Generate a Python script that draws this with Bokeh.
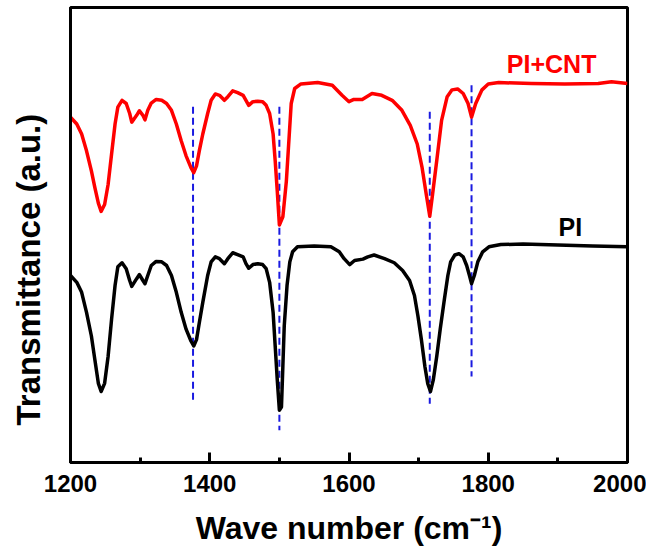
from bokeh.plotting import figure
from bokeh.models import Range1d, SingleIntervalTicker, Title
from bokeh.core.properties import value
from bokeh.embed import file_html
from bokeh.resources import INLINE

# Spectrum of PI (wavenumber cm^-1, transmittance a.u.)
wn_pi = [1200, 1209, 1216, 1223, 1230, 1235, 1240, 1244, 1249, 1254, 1259, 1264, 1268, 1274,
         1280, 1285, 1288, 1295, 1299, 1304, 1307, 1311, 1316, 1323, 1331, 1338, 1345, 1352,
         1359, 1366, 1373, 1377, 1381, 1385, 1390, 1397, 1402, 1408, 1414, 1421, 1426, 1433,
         1440, 1448, 1452, 1456, 1462, 1469, 1476, 1481, 1486, 1491, 1494, 1497, 1500,
         1503, 1505, 1507, 1511, 1515, 1519, 1526, 1550, 1574, 1586, 1593, 1601, 1608, 1620,
         1627, 1636, 1651, 1665, 1677, 1687, 1694, 1699, 1704, 1709, 1713, 1717, 1721, 1726,
         1731, 1737, 1742, 1746, 1752, 1758, 1764, 1769, 1773, 1776, 1780, 1785, 1792, 1801,
         1818, 1850, 1900, 1950, 2000]
t_pi = [41.1, 39.6, 37.4, 33.0, 27.8, 22.6, 17.4, 15.6, 17.4, 23.3, 31.5, 38.9, 43.0, 43.9,
        42.6, 40.0, 38.7, 40.4, 41.3, 40.0, 39.3, 41.1, 43.3, 44.2, 44.1, 43.3, 41.1, 37.4,
        33.0, 29.3, 26.7, 25.6, 27.0, 30.7, 35.2, 41.1, 44.1, 45.2, 44.8, 43.7, 44.8, 46.1,
        45.7, 45.2, 43.7, 42.7, 43.5, 43.7, 43.5, 42.6, 39.6, 33.0, 25.6, 18.1, 11.5,
        12.2, 21.1, 30.0, 38.9, 44.1, 46.3, 47.4, 47.6, 47.4, 46.3, 44.8, 43.5, 44.4, 44.7,
        45.2, 45.6, 44.8, 43.9, 42.2, 40.0, 36.7, 32.2, 27.0, 21.1, 17.4, 15.6, 18.1, 23.3,
        29.3, 35.9, 41.1, 44.1, 45.6, 45.9, 45.2, 43.3, 41.1, 39.3, 41.1, 44.1, 46.3, 47.4,
        47.9, 48.0, 47.8, 47.6, 47.4]

# Spectrum of PI+CNT
wn_cnt = [1200, 1209, 1216, 1223, 1230, 1235, 1240, 1244, 1249, 1254, 1259, 1264, 1268, 1274,
          1280, 1285, 1288, 1295, 1299, 1304, 1307, 1311, 1316, 1323, 1331, 1338, 1345, 1352,
          1359, 1366, 1373, 1377, 1381, 1385, 1390, 1397, 1402, 1408, 1414, 1421, 1426, 1433,
          1440, 1448, 1452, 1456, 1462, 1469, 1476, 1481, 1486, 1491, 1494, 1497, 1500,
          1505, 1510, 1517, 1522, 1531, 1555, 1576, 1590, 1600, 1607, 1619, 1633, 1647, 1662,
          1676, 1688, 1698, 1705, 1711, 1716, 1720, 1726, 1733, 1741, 1748, 1756, 1764, 1771,
          1776, 1782, 1791, 1800, 1815, 1862, 1910, 1958, 1977, 2000]
t_cnt = [75.9, 74.4, 72.2, 68.5, 64.1, 60.4, 57.0, 55.2, 56.7, 61.1, 67.8, 74.4, 78.1, 79.6,
         78.9, 76.7, 74.8, 76.3, 77.3, 76.3, 75.3, 77.4, 79.0, 79.8, 79.6, 78.9, 77.4, 74.4,
         70.7, 67.4, 64.8, 63.7, 65.2, 68.5, 72.2, 76.7, 79.6, 81.0, 80.7, 79.6, 80.4, 81.7,
         81.3, 80.7, 79.6, 78.5, 79.3, 79.4, 79.3, 78.5, 76.7, 72.2, 66.3, 59.6, 52.2,
         54.0, 61.8, 78.9, 82.2, 83.2, 83.5, 82.9, 80.7, 79.3, 79.8, 79.8, 81.1, 80.7, 79.6,
         77.4, 74.1, 70.0, 64.8, 58.9, 54.1, 58.9, 66.3, 75.2, 80.4, 81.9, 82.1, 81.1, 78.9,
         75.9, 78.9, 81.9, 83.2, 83.5, 83.3, 83.2, 83.3, 83.7, 83.3]

# Marked band positions and the extent of the guide lines
peak_wn = [1376, 1500, 1716, 1776]
peak_top = [78.2, 78.2, 77.1, 82.9]
peak_bottom = [13.6, 7.1, 12.9, 18.9]

series_names = ["PI+CNT", "PI"]

FONT = "Liberation Sans"

p = figure(width=646, height=548, output_backend="svg", toolbar_location=None,
           x_range=Range1d(1200, 2000), y_range=Range1d(0, 100),
           min_border_left=61, min_border_right=19, min_border_top=7, min_border_bottom=10)

p.xgrid.visible = False
p.ygrid.visible = False
p.background_fill_color = "white"
p.border_fill_color = "white"
p.outline_line_color = "black"
p.outline_line_width = 3

# x axis
xa = p.xaxis[0]
xa.ticker = SingleIntervalTicker(interval=200, num_minor_ticks=2)
xa.axis_line_width = 3
xa.axis_line_color = "black"
xa.major_tick_in = 10
xa.major_tick_out = 0
xa.minor_tick_in = 5
xa.minor_tick_out = 0
xa.major_tick_line_width = 3
xa.minor_tick_line_width = 3
xa.major_label_text_font = FONT
xa.major_label_text_font_style = "bold"
xa.major_label_text_font_size = "24px"
xa.major_label_text_color = "black"
xa.major_label_standoff = 12
xa.axis_label = "Wave number (cm\u207b\u00b9)"
xa.axis_label_text_font = FONT
xa.axis_label_text_font_style = "bold"
xa.axis_label_text_font_size = "32px"
xa.axis_label_text_color = "black"
xa.axis_label_standoff = 15

# y axis: no ticks or labels (invisible outer ticks keep the title's gap)
ya = p.yaxis[0]
ya.axis_line_width = 3
ya.axis_line_color = "black"
ya.major_tick_line_color = None
ya.minor_tick_line_color = None
ya.major_tick_in = 0
ya.major_tick_out = 17
ya.minor_tick_in = 0
ya.minor_tick_out = 0
ya.major_label_text_font_size = "0px"
ya.major_label_text_color = None
ya.major_label_standoff = 0

# y title (placed slightly below the centre, as in the original)
p.add_layout(Title(text="Transmittance (a.u.)", align="left", offset=37, standoff=14,
                   text_font=FONT, text_font_style="bold", text_font_size="33px",
                   text_color="black"), "left")

# guide lines
p.segment(x0=peak_wn, y0=peak_top, x1=peak_wn, y1=peak_bottom,
          line_color="#1a1ae0", line_width=2, line_dash="7 4")

# spectra
p.line(wn_cnt, t_cnt, line_color="#ff0000", line_width=3.5, line_join="round")
p.line(wn_pi, t_pi, line_color="black", line_width=3.5, line_join="round")

# series labels
p.text(x=[1891], y=[87.6], text=[series_names[0]], text_color="#ff0000",
       text_font=value(FONT), text_font_style="bold", text_font_size="25px",
       text_align="center", text_baseline="middle")
p.text(x=[1918], y=[51.8], text=[series_names[1]], text_color="black",
       text_font=value(FONT), text_font_style="bold", text_font_size="25px",
       text_align="center", text_baseline="middle")

open("out.html", "w").write(file_html(p, INLINE))
